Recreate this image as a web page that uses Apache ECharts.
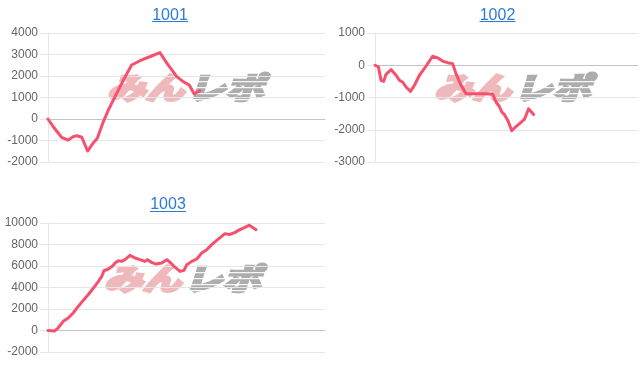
<!DOCTYPE html>
<html>
<head>
<meta charset="utf-8">
<script src="https://cdn.jsdelivr.net/npm/echarts@6/dist/echarts.min.js"></script>
<style>
html,body{margin:0;padding:0;background:#fff;}
#main{width:640px;height:372px;}
</style>
</head>
<body>
<div id="main"></div>
<script>
// ---- data ----
const titles = ['1001', '1002', '1003'];

const x1001 = [0, 1.9, 4.9, 7.3, 9.1, 10.4, 12.2, 14.3, 16.4, 17.8, 20.0, 21.8, 24.2, 27.2, 30.2, 33.2, 37.4, 40.4, 42.9, 46.5, 48.8, 51.0, 52.8, 54.8];
const y1001 = [0, -360, -850, -980, -820, -780, -850, -1490, -1100, -900, -120, 420, 1040, 1810, 2510, 2710, 2930, 3090, 2600, 1970, 1740, 1580, 1160, 1320];

const x1002 = [0, 1.3, 2.3, 3.3, 4.2, 6.1, 8.0, 9.3, 10.5, 11.8, 13.5, 15.0, 16.9, 18.8, 21.9, 23.8, 25.7, 27.6, 29.5, 30.8, 32.7, 34.6, 37.8, 41.6, 44.8, 46.0, 47.3, 48.2, 49.2, 50.5, 52.0, 53.6, 55.5, 56.8, 58.4, 60.3];
const y1002 = [0, -50, -470, -500, -280, -135, -310, -470, -520, -675, -810, -620, -310, -100, 280, 230, 130, 80, 50, -260, -620, -880, -880, -880, -900, -1140, -1280, -1450, -1530, -1710, -2030, -1900, -1770, -1680, -1350, -1530];

const x1003 = [0, 2.3, 3.6, 5.5, 7.3, 9.1, 10.9, 12.7, 14.5, 16.4, 18.2, 19.4, 20.2, 21.8, 23.4, 24.2, 25.4, 26.6, 27.8, 29.6, 31.4, 33.2, 35.0, 35.8, 37.4, 39.0, 41.0, 42.9, 44.3, 45.8, 47.7, 49.1, 50.1, 51.9, 53.7, 55.5, 57.3, 59.1, 60.9, 62.7, 63.9, 65.5, 67.5, 69.3, 71.1, 72.7, 75.1];
const y1003 = [0, -50, 230, 850, 1160, 1630, 2240, 2800, 3330, 3950, 4570, 5030, 5560, 5720, 6030, 6280, 6490, 6430, 6590, 6990, 6740, 6590, 6430, 6590, 6340, 6180, 6280, 6590, 6280, 5900, 5500, 5590, 6120, 6430, 6650, 7210, 7520, 7990, 8390, 8760, 9010, 8920, 9130, 9380, 9600, 9800, 9380];

const yRanges = [
  {min: -2000, max: 4000, interval: 1000},
  {min: -3000, max: 1000, interval: 1000},
  {min: -2000, max: 10000, interval: 2000}
];

// ---- layout / style ----
const grids = [
  {left: 48, top: 33, width: 277, height: 129},
  {left: 375, top: 33, width: 263, height: 129},
  {left: 48, top: 223, width: 277, height: 129}
];
const titlePos = [[170, 15.5, 21.5], [497.5, 15.5, 21.5], [168, 205, 211.5]];
const wmPos = [[108, 88], [435, 88], [105, 279]];

const lineColor = '#f5506e';
const gridColor = '#e6e6e6';
const linkColor = '#2f7ad6';

const seriesX = [x1001, x1002, x1003];
const seriesY = [y1001, y1002, y1003];

const chart = echarts.init(document.getElementById('main'), null, {renderer: 'canvas'});

const xAxes = [], yAxes = [], series = [], graphics = [];
for (let i = 0; i < 3; i++) {
  xAxes.push({
    gridIndex: i, type: 'value', min: 0, max: 100,
    axisLabel: {show: false}, axisTick: {show: false}, splitLine: {show: false},
    axisLine: {show: true, onZero: true, lineStyle: {color: '#c4c4c4', width: 1}}
  });
  yAxes.push({
    gridIndex: i, type: 'value',
    min: yRanges[i].min, max: yRanges[i].max, interval: yRanges[i].interval,
    axisLabel: {color: '#666', fontSize: 12, margin: 10, fontFamily: '"Liberation Sans", Arial, sans-serif',
                formatter: v => String(v)},
    axisTick: {show: true, length: 8, lineStyle: {color: gridColor}},
    axisLine: {show: true, lineStyle: {color: gridColor}},
    splitLine: {show: true, lineStyle: {color: gridColor}}
  });
  series.push({
    type: 'line', xAxisIndex: i, yAxisIndex: i,
    data: seriesX[i].map((x, k) => [x, seriesY[i][k]]),
    showSymbol: false, symbol: 'none',
    lineStyle: {color: lineColor, width: 3, join: 'round', cap: 'round'},
    z: 5, animation: false
  });
  const [tx, ty, uy] = titlePos[i];
  graphics.push({
    type: 'text', x: tx, y: ty, z: 10,
    style: {text: titles[i], fill: linkColor, font: '16px "Liberation Sans", Arial, sans-serif',
            textAlign: 'center', textVerticalAlign: 'middle', align: 'center', verticalAlign: 'middle'}
  });
  graphics.push({
    type: 'line', z: 10,
    shape: {x1: tx - 18, y1: uy, x2: tx + 18, y2: uy},
    style: {stroke: linkColor, lineWidth: 1}
  });
  const [wx, wy] = wmPos[i];
  graphics.push({
    type: 'text', x: wx - 1, y: wy, z: -2, silent: true, scaleX: 1.28,
    style: {text: 'みん', fill: '#efb9bc', stroke: '#efb9bc', lineWidth: 3, font: 'italic bold 30px "Noto Sans CJK JP"',
            textAlign: 'left', textVerticalAlign: 'middle', align: 'left', verticalAlign: 'middle'}
  });
  graphics.push({
    type: 'text', x: wx + 79, y: wy, z: -2, silent: true, scaleX: 1.28,
    style: {text: 'レポ', fill: '#adadad', stroke: '#adadad', lineWidth: 3, font: 'italic bold 30px "Noto Sans CJK JP"',
            textAlign: 'left', textVerticalAlign: 'middle', align: 'left', verticalAlign: 'middle'}
  });
  [-7, -1, 5, 11].forEach(dy => {
    graphics.push({
      type: 'rect', z: -1, silent: true,
      shape: {x: wx + 80, y: wy + dy, width: 82, height: 1.3},
      style: {fill: 'rgba(255,255,255,0.9)'}
    });
  });
}

chart.setOption({
  animation: false,
  backgroundColor: '#fff',
  grid: grids.map(g => Object.assign({containLabel: false}, g)),
  xAxis: xAxes,
  yAxis: yAxes,
  series: series,
  graphic: {elements: graphics}
});
</script>
</body>
</html>
